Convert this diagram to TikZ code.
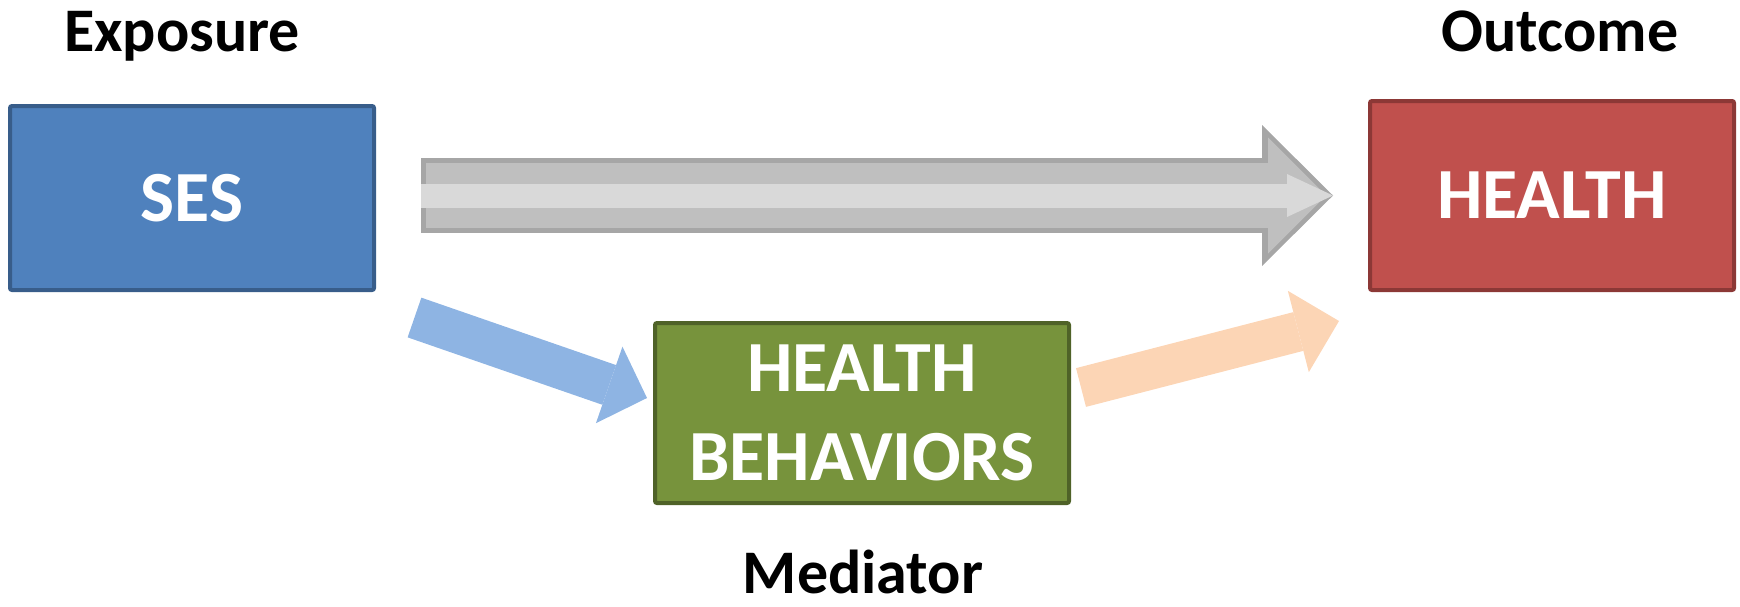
\documentclass[tikz,border=0pt]{standalone}
\usepackage{fontspec}
\setmainfont{Carlito}
\usetikzlibrary{arrows.meta,calc}
\definecolor{sesfill}{HTML}{4F81BD}\definecolor{sesline}{HTML}{385D8A}
\definecolor{hlthfill}{HTML}{C0504D}\definecolor{hlthline}{HTML}{8C3836}
\definecolor{behfill}{HTML}{77933C}\definecolor{behline}{HTML}{4F6228}
\definecolor{grayout}{HTML}{A6A6A6}\definecolor{grayin}{HTML}{BFBFBF}\definecolor{graystripe}{HTML}{D9D9D9}
\definecolor{arrblue}{HTML}{8EB4E3}\definecolor{arrpeach}{HTML}{FCD5B5}
\tikzset{box/.style={draw,line width=4pt,rounded corners=2pt,inner sep=0pt,text=white,align=center,
   font=\bfseries\fontsize{72}{89}\selectfont},
 lbl/.style={anchor=base,inner sep=0pt,font=\bfseries\fontsize{62}{74}\selectfont},
 fat/.style 2 args={line width=#1,-{Triangle[#2,line width=0pt]}}}
\begin{document}
\begin{tikzpicture}[x=1pt,y=-1pt]
 \useasboundingbox (0,0) rectangle (1740,606);
 % boxes
 \node[box,fill=sesfill,draw=sesline,minimum width=364pt,minimum height=184pt] (ses) at (192,198) {SES};
 \node[box,fill=hlthfill,draw=hlthline,minimum width=364pt,minimum height=189pt] (health) at (1552,195.5) {HEALTH};
 \node[box,fill=behfill,draw=behline,minimum width=414pt,minimum height=180pt] (behav) at (862,413) {HEALTH\\BEHAVIORS};
 % labels
 \node[lbl] (expo) at (182,51) {Exposure}; \node[lbl] (outc) at (1560,51) {Outcome}; \node[lbl] (med) at (863,593) {Mediator};
 % direct path
 \draw[fat={75pt}{length=71pt,width=141pt},grayout,shorten <=45pt,shorten >=35pt] (ses.east |- health.west) -- (health.west);
 \draw[fat={65pt}{length=58pt,width=116pt},grayin,shorten <=50pt,shorten >=42pt] (ses.east |- health.west) -- (health.west);
 \draw[fat={24pt}{length=46pt,width=43pt},graystripe,shorten <=45pt,shorten >=35pt] (ses.east |- health.west) -- (health.west);
 % indirect path
 \draw[fat={42pt}{length=40pt,width=81pt},arrblue] ($(ses.south east)+(38.5,25.5)$) -- ($(behav.west)+(-6,-15)$);
 \draw[fat={40pt}{length=42pt,width=84pt},arrpeach] ($(behav.east)+(10,-25.5)$) -- ($(health.south west)+(-29,29)$);
\end{tikzpicture}
\end{document}
